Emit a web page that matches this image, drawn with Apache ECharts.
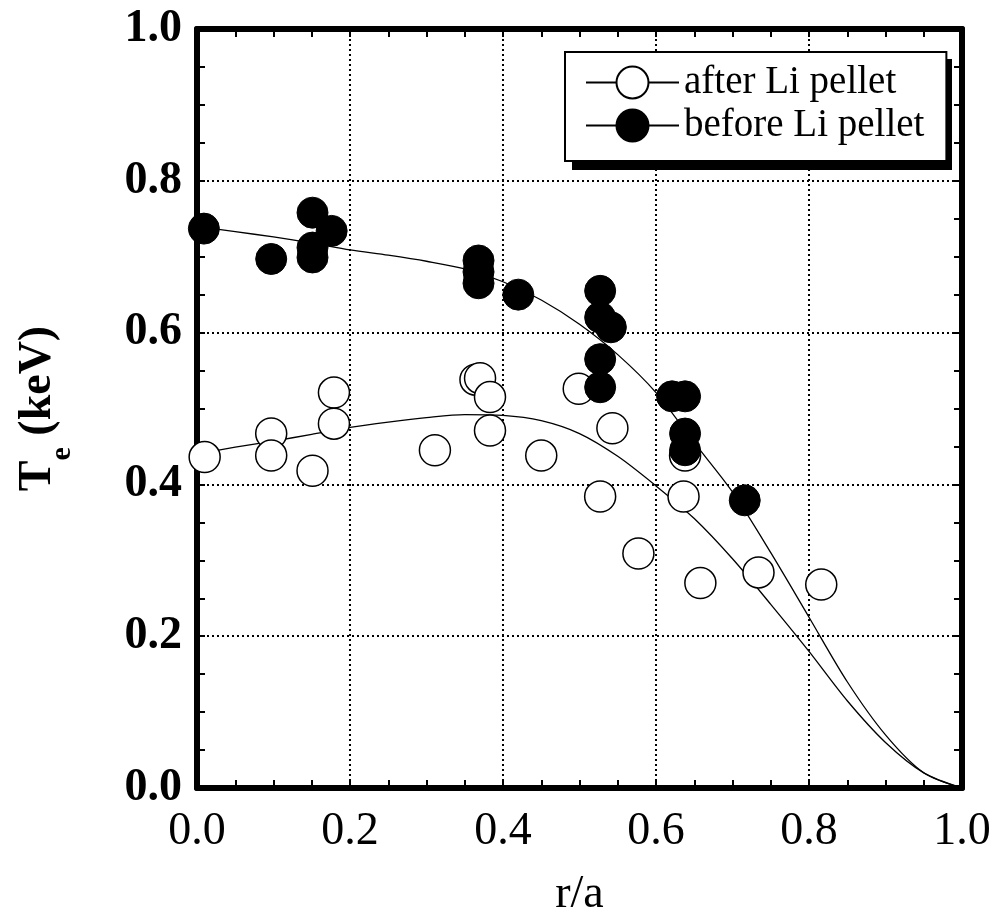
<!DOCTYPE html>
<html>
<head>
<meta charset="utf-8">
<script src="https://cdn.jsdelivr.net/npm/echarts@6/dist/echarts.min.js"></script>
<style>html,body{margin:0;padding:0;background:#fff;}#c{width:997px;height:923px;}</style>
</head>
<body>
<div id="c"></div>
<script>
// ---- data ----
const xTickValues = [0.0, 0.2, 0.4, 0.6, 0.8, 1.0];
const yTickValues = [0.0, 0.2, 0.4, 0.6, 0.8, 1.0];
const seriesNames = ['after Li pellet', 'before Li pellet'];

// measured points [r/a, Te]
const afterPoints = [
  [0.010,0.436],[0.097,0.467],[0.097,0.438],[0.151,0.418],[0.179,0.521],[0.179,0.480],
  [0.311,0.445],[0.364,0.538],[0.370,0.540],[0.383,0.515],[0.383,0.471],[0.450,0.438],
  [0.499,0.526],[0.527,0.384],[0.543,0.474],[0.577,0.309],[0.636,0.384],[0.638,0.438],
  [0.658,0.270],[0.734,0.284],[0.816,0.268]
];
const beforePoints = [
  [0.009,0.737],[0.097,0.697],[0.151,0.758],[0.151,0.712],[0.151,0.699],[0.176,0.734],
  [0.368,0.695],[0.368,0.680],[0.368,0.665],[0.420,0.650],
  [0.527,0.655],[0.527,0.620],[0.541,0.607],[0.527,0.565],[0.527,0.528],
  [0.621,0.516],[0.638,0.516],[0.638,0.467],[0.638,0.445],[0.716,0.379]
];

// fitted profiles
const fitX      = [0, 0.05, 0.1, 0.15, 0.2, 0.25, 0.3, 0.35, 0.4, 0.45, 0.5, 0.55, 0.6, 0.65, 0.7, 0.75, 0.8, 0.85, 0.9, 0.95, 1.0];
const fitAfter  = [0.440,0.449,0.457,0.466,0.475,0.482,0.488,0.492,0.491,0.484,0.467,0.437,0.398,0.355,0.302,0.242,0.180,0.115,0.060,0.020,0.0];
const fitBefore = [0.740,0.733,0.726,0.718,0.709,0.702,0.694,0.684,0.667,0.643,0.611,0.571,0.521,0.455,0.390,0.310,0.225,0.140,0.070,0.020,0.0];

// ---- chart ----
const serif = '"Liberation Serif", "Times New Roman", serif';
const chart = echarts.init(document.getElementById('c'), null, {renderer: 'canvas'});

function baseAxis(extra) {
  return Object.assign({
    type: 'value', min: 0, max: 1, interval: 0.2,
    axisLine: {show: true, onZero: false, lineStyle: {color: '#000', width: 6}},
    axisTick: {show: true, inside: true, length: 8, lineStyle: {color: '#000', width: 2}},
    minorTick: {show: true, splitNumber: 4, length: 8, lineStyle: {color: '#000', width: 2}},
    splitLine: {show: false},
    axisLabel: {show: false}
  }, extra);
}

const option = {
  animation: false,
  backgroundColor: '#fff',
  grid: {left: 197, right: 35, top: 29, bottom: 135, containLabel: false},
  graphic: [{
    type: 'rect', z: 3, silent: true,
    shape: {x: 572, y: 59, width: 380, height: 111},
    style: {fill: '#000'}
  }],
  xAxis: [
    baseAxis({
      position: 'bottom',
      splitLine: {show: true, lineStyle: {color: '#000', width: 2, type: [2, 3]}},
      axisLabel: {show: true, margin: 21, color: '#000', fontFamily: serif, fontSize: 46,
        formatter: v => xTickValues.some(t => Math.abs(t - v) < 1e-9) ? v.toFixed(1) : ''},
      name: 'r/a', nameLocation: 'middle', nameGap: 84,
      nameTextStyle: {color: '#000', fontFamily: serif, fontSize: 46}
    }),
    baseAxis({position: 'top'})
  ],
  yAxis: [
    baseAxis({
      position: 'left',
      splitLine: {show: true, lineStyle: {color: '#000', width: 2, type: [2, 3]}},
      axisLabel: {show: true, margin: 15, color: '#000', fontFamily: serif, fontSize: 46, fontWeight: 'bold',
        formatter: v => yTickValues.some(t => Math.abs(t - v) < 1e-9) ? v.toFixed(1) : ''},
      name: '{t|T}{s|e}{t| (keV)}', nameLocation: 'middle', nameGap: 112, nameRotate: 90,
      nameTextStyle: {color: '#000', rich: {
        t: {fontFamily: serif, fontSize: 46, fontWeight: 'bold', color: '#000', padding: [0, 0, 24, 0]},
        s: {fontFamily: serif, fontSize: 30, fontWeight: 'bold', color: '#000', padding: [24, 0, 0, 0]}
      }}
    }),
    baseAxis({position: 'right'})
  ],
  legend: {
    data: seriesNames, z: 6,
    orient: 'vertical', left: 565, top: 52,
    padding: [11, 22, 16, 20],
    itemWidth: 93, itemHeight: 40, itemGap: 4,
    backgroundColor: '#fff', borderColor: '#000', borderWidth: 2, borderRadius: 0,
    selectedMode: false,
    textStyle: {fontFamily: serif, fontSize: 39, color: '#000'}
  },
  series: [
    {
      name: seriesNames[0], type: 'line', smooth: 0.3, z: 2, silent: true,
      data: fitX.map((x, i) => [x, fitAfter[i]]),
      symbol: 'circle', symbolSize: 32, showSymbol: false,
      lineStyle: {color: '#000', width: 1.3},
      itemStyle: {color: '#fff', borderColor: '#000', borderWidth: 1.5}
    },
    {
      name: seriesNames[1], type: 'line', smooth: 0.3, z: 2, silent: true,
      data: fitX.map((x, i) => [x, fitBefore[i]]),
      symbol: 'circle', symbolSize: 32, showSymbol: false,
      lineStyle: {color: '#000', width: 1.3},
      itemStyle: {color: '#000', borderColor: '#000', borderWidth: 1}
    },
    {
      name: 'after points', type: 'scatter', z: 3, silent: true,
      data: afterPoints, symbol: 'circle', symbolSize: 31,
      itemStyle: {color: '#fff', borderColor: '#000', borderWidth: 1.5, opacity: 1}
    },
    {
      name: 'before points', type: 'scatter', z: 4, silent: true,
      data: beforePoints, symbol: 'circle', symbolSize: 31,
      itemStyle: {color: '#000', borderColor: '#000', borderWidth: 1, opacity: 1}
    }
  ]
};
chart.setOption(option);
</script>
</body>
</html>
